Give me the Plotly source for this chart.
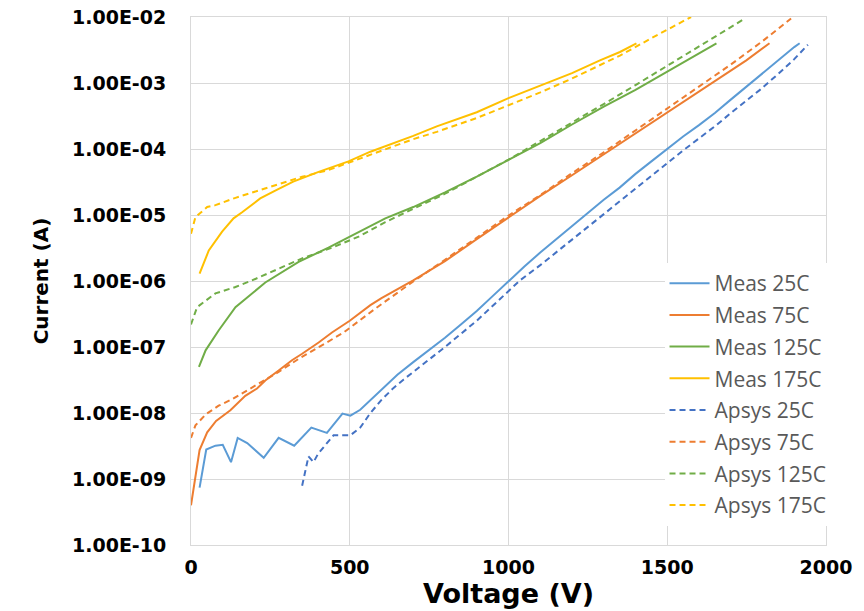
import plotly.graph_objects as go

# ---- data ----
v_meas25 = [27, 48, 77, 100, 126, 147, 177, 229, 276, 325, 379, 428, 477, 502, 533, 575, 612,
            650, 700, 750, 800, 850, 900, 950, 1000, 1050, 1100, 1150, 1200, 1250, 1300, 1350,
            1400, 1450, 1500, 1550, 1600, 1650, 1700, 1750, 1800, 1850, 1900, 1917]
i_meas25 = [7.4e-10, 2.8e-9, 3.2e-9, 3.3e-9, 1.8e-9, 4.2e-9, 3.5e-9, 2.1e-9, 4.2e-9, 3.2e-9,
            6.0e-9, 5.0e-9, 9.8e-9, 9.1e-9, 1.12e-8, 1.74e-8, 2.6e-8, 3.8e-8, 5.9e-8, 8.9e-8,
            1.38e-7, 2.2e-7, 3.5e-7, 5.9e-7, 1.0e-6, 1.66e-6, 2.7e-6, 4.3e-6, 6.8e-6, 1.07e-5,
            1.7e-5, 2.6e-5, 4.2e-5, 6.5e-5, 1.0e-4, 1.55e-4, 2.3e-4, 3.5e-4, 5.6e-4, 8.9e-4,
            1.41e-3, 2.2e-3, 3.5e-3, 4.0e-3]

v_meas75 = [0, 27, 51, 79, 124, 171, 208, 234, 276, 318, 350, 402, 444, 500, 565, 600, 700,
            800, 900, 1000, 1100, 1200, 1300, 1400, 1500, 1600, 1700, 1749, 1822]
i_meas75 = [4.0e-10, 2.75e-9, 5.1e-9, 7.6e-9, 1.1e-8, 1.82e-8, 2.35e-8, 3.1e-8, 4.4e-8, 6.3e-8,
            7.9e-8, 1.17e-7, 1.66e-7, 2.5e-7, 4.3e-7, 5.5e-7, 1.02e-6, 2.0e-6, 4.3e-6, 9.3e-6,
            1.95e-5, 4.0e-5, 8.3e-5, 1.74e-4, 3.6e-4, 7.4e-4, 1.55e-3, 2.2e-3, 4.0e-3]

v_meas125 = [25, 46, 87, 140, 234, 339, 433, 507, 612, 700, 800, 900, 1000, 1100, 1200, 1300,
             1400, 1500, 1600, 1655]
i_meas125 = [5.0e-8, 8.9e-8, 1.78e-7, 4.0e-7, 9.5e-7, 1.95e-6, 3.2e-6, 4.9e-6, 8.9e-6, 1.32e-5,
             2.2e-5, 3.8e-5, 6.8e-5, 1.23e-4, 2.35e-4, 4.4e-4, 7.9e-4, 1.48e-3, 2.75e-3, 4.0e-3]

v_meas175 = [27, 56, 98, 134, 161, 218, 270, 322, 402, 496, 565, 600, 700, 774, 900, 1000, 1100,
             1200, 1288, 1351, 1403]
i_meas175 = [1.29e-6, 2.9e-6, 5.6e-6, 8.9e-6, 1.1e-5, 1.78e-5, 2.4e-5, 3.2e-5, 4.5e-5, 6.5e-5,
             9.1e-5, 1.05e-4, 1.58e-4, 2.2e-4, 3.6e-4, 5.9e-4, 9.1e-4, 1.41e-3, 2.2e-3, 2.95e-3,
             4.0e-3]

v_aps25 = [350, 370, 386, 400, 449, 475, 502, 533, 565, 600, 638, 669, 700, 774, 800, 900, 950,
           1000, 1036, 1100, 1157, 1200, 1288, 1350, 1435, 1497, 1550, 1600, 1655, 1700, 1791,
           1850, 1900, 1943]
i_aps25 = [7.9e-10, 2.2e-9, 1.8e-9, 2.4e-9, 4.6e-9, 4.6e-9, 4.6e-9, 6.0e-9, 1.0e-8, 1.58e-8,
           2.4e-8, 3.2e-8, 4.2e-8, 7.9e-8, 1.0e-7, 2.5e-7, 4.2e-7, 7.2e-7, 1.02e-6, 1.74e-6,
           2.9e-6, 4.2e-6, 9.3e-6, 1.62e-5, 3.4e-5, 6.0e-5, 9.5e-5, 1.45e-4, 2.3e-4, 3.5e-4,
           7.8e-4, 1.38e-3, 2.3e-3, 3.8e-3]

v_aps75 = [0, 14, 46, 87, 130, 213, 276, 339, 402, 481, 580, 690, 800, 900, 1000, 1100, 1200,
           1300, 1400, 1500, 1600, 1700, 1800, 1890]
i_aps75 = [4.2e-9, 6.5e-9, 9.5e-9, 1.29e-8, 1.62e-8, 2.75e-8, 4.2e-8, 6.6e-8, 1.0e-7, 1.66e-7,
           3.8e-7, 9.1e-7, 2.1e-6, 4.6e-6, 9.8e-6, 2.0e-5, 4.3e-5, 8.9e-5, 1.9e-4, 4.1e-4,
           8.7e-4, 1.9e-3, 4.3e-3, 9.5e-3]

v_aps125 = [0, 19, 77, 140, 192, 276, 350, 444, 528, 612, 700, 800, 900, 1000, 1100, 1200, 1300,
            1400, 1500, 1600, 1700, 1745]
i_aps125 = [2.2e-7, 4.0e-7, 6.5e-7, 8.1e-7, 1.02e-6, 1.55e-6, 2.2e-6, 3.2e-6, 4.7e-6, 7.8e-6,
            1.23e-5, 2.1e-5, 3.8e-5, 6.9e-5, 1.32e-4, 2.5e-4, 4.8e-4, 9.3e-4, 1.82e-3, 3.5e-3,
            6.9e-3, 9.5e-3]

v_aps175 = [0, 14, 51, 77, 140, 245, 350, 433, 500, 570, 700, 774, 900, 1000, 1100, 1200, 1300,
            1351, 1451, 1575]
i_aps175 = [5.2e-6, 9.3e-6, 1.32e-5, 1.41e-5, 1.82e-5, 2.6e-5, 3.8e-5, 4.8e-5, 6.3e-5, 8.5e-5,
            1.41e-4, 1.82e-4, 2.95e-4, 4.6e-4, 7.2e-4, 1.17e-3, 1.95e-3, 2.6e-3, 4.8e-3, 1.0e-2]

y_tickvals = [1e-10, 1e-9, 1e-8, 1e-7, 1e-6, 1e-5, 1e-4, 1e-3, 1e-2]
y_ticktext = ["1.00E-10", "1.00E-09", "1.00E-08", "1.00E-07", "1.00E-06",
              "1.00E-05", "1.00E-04", "1.00E-03", "1.00E-02"]
x_tickvals = [0, 500, 1000, 1500, 2000]

series = [
    ("Meas 25C", v_meas25, i_meas25, "#5B9BD5", "solid"),
    ("Meas 75C", v_meas75, i_meas75, "#ED7D31", "solid"),
    ("Meas 125C", v_meas125, i_meas125, "#70AD47", "solid"),
    ("Meas 175C", v_meas175, i_meas175, "#FFC000", "solid"),
    ("Apsys 25C", v_aps25, i_aps25, "#4472C4", "6px,4px"),
    ("Apsys 75C", v_aps75, i_aps75, "#ED7D31", "6px,4px"),
    ("Apsys 125C", v_aps125, i_aps125, "#70AD47", "6px,4px"),
    ("Apsys 175C", v_aps175, i_aps175, "#FFC000", "6px,4px"),
]

fig = go.Figure()
for name, xs, ys, color, dash in series:
    fig.add_trace(go.Scatter(x=xs, y=ys, name=name, mode="lines", legendgroup=name,
                             line=dict(color=color, width=2, dash=dash)))

tick_font = dict(family="DejaVu Sans", size=19, color="#000000", weight="bold")
ytitle_font = dict(family="DejaVu Sans", size=20, color="#000000", weight="bold")
xtitle_font = dict(family="DejaVu Sans", size=27, color="#000000", weight="bold")
grid = "#D9D9D9"

# the page places the figure 8 px in from the top-left corner of the window
fig.update_layout(
    width=856, height=603,
    margin=dict(l=182.5, r=37.5, t=9, b=66, autoexpand=False),
    plot_bgcolor="white", paper_bgcolor="white",
    showlegend=True,
    legend=dict(x=0.7457, y=0.534, xanchor="left", yanchor="top",
                bgcolor="white", borderwidth=0,
                font=dict(family="Open Sans", size=21, color="#595959"),
                traceorder="grouped", tracegroupgap=1.4, itemwidth=40),
    xaxis=dict(range=[0, 2000], tickvals=x_tickvals, showgrid=True, gridcolor=grid,
               gridwidth=1, zeroline=False, showline=True, linecolor=grid, mirror=True,
               ticks="", tickfont=tick_font, ticklabelstandoff=5, automargin=False,
               ticklabeloverflow="allow",
               title=dict(text="Voltage (V)", font=xtitle_font, standoff=6)),
    yaxis=dict(type="log", range=[-10, -2], tickvals=y_tickvals, ticktext=y_ticktext,
               showgrid=True, gridcolor=grid, gridwidth=1, zeroline=False, showline=True,
               linecolor=grid, mirror=True, ticks="", tickfont=tick_font,
               ticklabelstandoff=20, automargin=False, ticklabeloverflow="allow",
               title=dict(text="Current (A)", font=ytitle_font, standoff=18)),
)

fig.write_html("out.html")
